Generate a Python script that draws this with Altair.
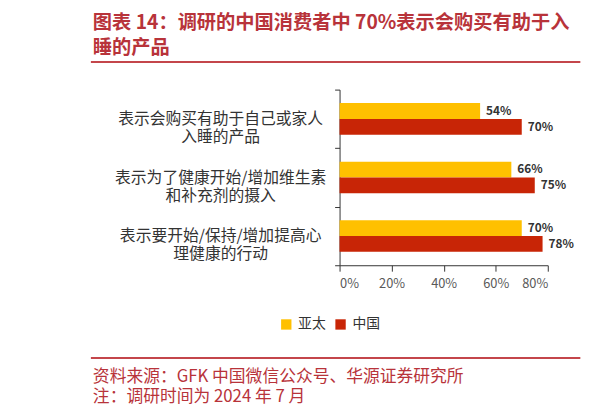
import altair as alt
import pandas as pd

# ---- data ----
categories = [
    "表示会购买有助于自己或家人\n入睡的产品",
    "表示为了健康开始/增加维生素\n和补充剂的摄入",
    "表示要开始/保持/增加提高心\n理健康的行动",
]
series = ["亚太", "中国"]
apac = [54, 66, 70]
china = [70, 75, 78]
x_ticks = [0, 20, 40, 60, 80]
title_lines = ["图表 14：调研的中国消费者中 70%表示会购买有助于入", "睡的产品"]
source_lines = ["资料来源：GFK 中国微信公众号、华源证券研究所", "注：调研时间为 2024 年 7 月"]

rows = []
for c, a, ch in zip(categories, apac, china):
    rows.append({"cat": c, "series": series[0], "value": a})
    rows.append({"cat": c, "series": series[1], "value": ch})
df = pd.DataFrame(rows)

FONT = "Noto Sans CJK SC"
RED_T = "#B8333A"
RED_RULE = "#C4464B"

y_enc = alt.Y(
    "cat:N", sort=categories,
    scale=alt.Scale(paddingInner=0, paddingOuter=0),
    axis=alt.Axis(title=None, labelExpr="split(datum.label, '\\n')",
                  labelAlign="center", labelPadding=116, labelFontSize=16,
                  labelLineHeight=18, labelColor="#333333", labelFont=FONT,
                  tickSize=5, tickBand="extent", domainColor="#333333",
                  tickColor="#333333", labelLimit=400),
)
x_enc = alt.X(
    "value:Q", scale=alt.Scale(domain=[0, 80], nice=False),
    axis=alt.Axis(values=x_ticks, labelExpr="datum.value + '%'", title=None,
                  grid=False, tickSize=6, labelPadding=7, labelFontSize=13,
                  labelColor="#595959", domainColor="#333333",
                  tickColor="#333333", labelFont=FONT),
)
yoff = alt.YOffset("series:N", sort=series,
                   scale=alt.Scale(paddingInner=0, paddingOuter=0.854))

base = alt.Chart(df)
bars = base.mark_bar().encode(
    x=x_enc, y=y_enc, yOffset=yoff,
    color=alt.Color("series:N", sort=series,
                    scale=alt.Scale(domain=series, range=["#FFC000", "#C82506"]),
                    legend=alt.Legend(title=None, orient="none", legendX=-61, legendY=231,
                                      direction="horizontal", symbolType="square",
                                      symbolSize=110, symbolStrokeWidth=0,
                                      labelFontSize=14, labelFont=FONT,
                                      labelColor="#333333", columnPadding=8,
                                      labelOffset=5, padding=0)),
)
labels = base.transform_calculate(lab="datum.value + '%'").mark_text(
    align="left", baseline="middle", dx=6, fontSize=12, fontWeight="bold",
    color="#333333", font=FONT,
).encode(x=x_enc, y=y_enc, yOffset=yoff, text="lab:N")

one = alt.Data(values=[{"a": 1}])


def rule(x1, x2, y):
    return alt.Chart(one).mark_rule(color=RED_RULE, strokeWidth=2).encode(
        x=alt.value(x1), x2=alt.value(x2), y=alt.value(y))


def txt(s, y, size, weight):
    return alt.Chart(one).mark_text(
        align="left", baseline="middle", fontSize=size, fontWeight=weight,
        color=RED_T, font=FONT,
    ).encode(x=alt.value(-250), y=alt.value(y), text=alt.value(s))


deco = [
    rule(-252, 244, -28), rule(272, 280, -28),
    rule(-252, 244, 272), rule(272, 280, 272),
    txt(title_lines[0], -67, 19.5, "bold"),
    txt(title_lines[1], -42, 19.5, "bold"),
    txt(source_lines[0], 291, 17, "normal"),
    txt(source_lines[1], 312, 17, "normal"),
]

chart = alt.layer(bars, labels, *deco).properties(
    width=211, height=178,
    autosize=alt.AutoSizeParams(type="none"),
    padding={"left": 336, "top": 80, "right": 59, "bottom": 145},
).configure_view(strokeWidth=0)

chart.save("out.html", embed_options={"renderer": "svg", "actions": False})
